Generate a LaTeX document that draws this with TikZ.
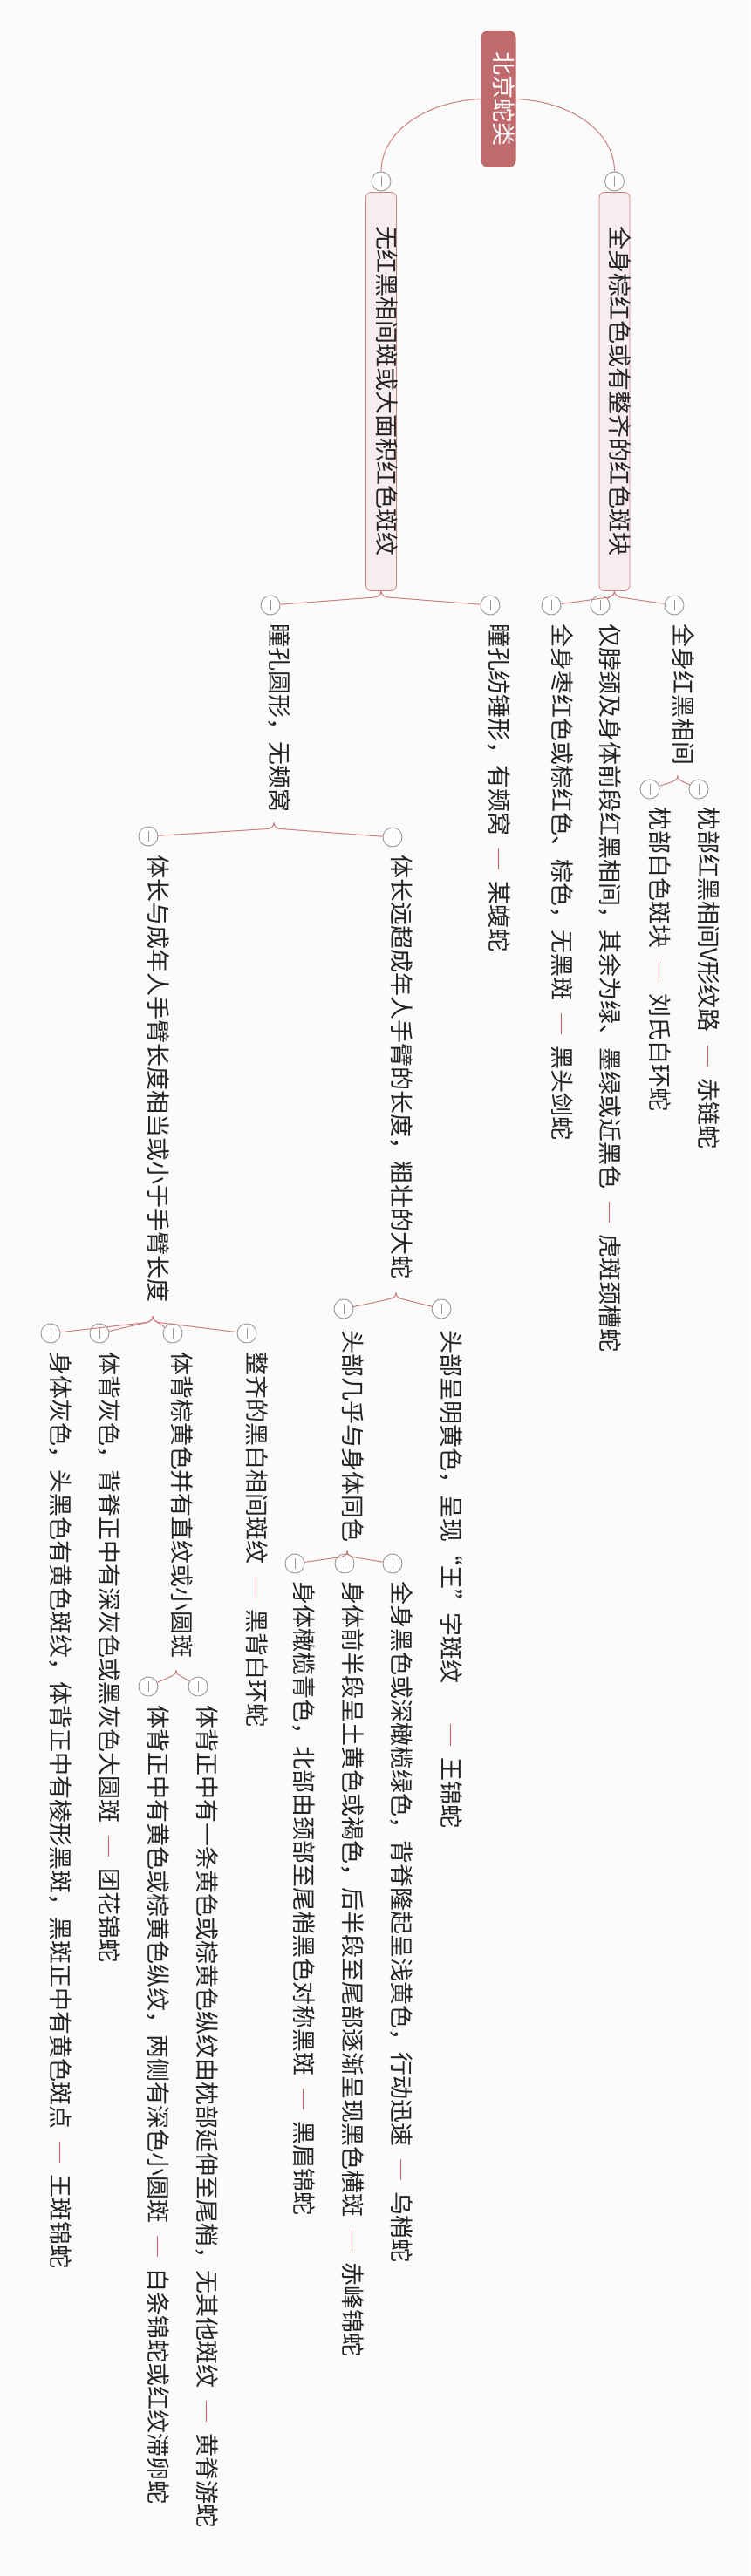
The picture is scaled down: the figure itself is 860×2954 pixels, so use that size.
\documentclass[tikz,border=0pt]{standalone}
\usepackage{fontspec}
\setmainfont{Noto Sans CJK SC}
\definecolor{paper}{RGB}{251,251,251}
\definecolor{rootred}{RGB}{191,106,109}
\definecolor{topicfill}{RGB}{248,237,238}
\definecolor{topicline}{RGB}{206,128,131}
\definecolor{linkred}{RGB}{204,126,128}
\definecolor{foldgray}{RGB}{150,150,150}
\definecolor{ink}{RGB}{35,35,35}
\definecolor{dashred}{RGB}{214,96,96}
\newcommand\redsep{\hspace{0.55em}\textcolor{dashred}{\rule[0.32em]{0.9em}{0.8pt}}\hspace{0.5em}}
\tikzset{
  root/.style={rotate=-90, fill=rootred, text=white, rounded corners=8pt,
    inner xsep=24.5pt, inner ysep=15pt, text height=0.88em, text depth=0.12em},
  topic/.style={rotate=-90, fill=topicfill, draw=topicline, line width=0.8pt,
    rounded corners=6pt, inner xsep=39.5pt, inner ysep=12.5pt, text=ink,
    text height=0.88em, text depth=0.12em},
  leaf/.style={rotate=-90, anchor=west, inner sep=0pt, text=ink,
    text height=0.88em, text depth=0.12em},
  fold/.style={circle, draw=foldgray, fill=white, line width=0.9pt,
    minimum size=22pt, inner sep=0pt,
    path picture={\draw[foldgray, line width=0.9pt]
      ([yshift=-5pt]path picture bounding box.north) --
      ([yshift=5pt]path picture bounding box.south);}},
  link/.style={draw=linkred, line width=1pt}
}
\begin{document}
\begin{tikzpicture}[x=1pt, y=-1pt, font=\fontsize{27}{32}\selectfont]
  \fill[paper] (0,0) rectangle (860,2954);

  \node[root] (root) at (571.5,113.5) {北京蛇类};
  \node[topic] (pattern) at (437,449) {无红黑相间斑或大面积红色斑纹};
  \node[topic] (redbody) at (704.5,449) {全身棕红色或有整齐的红色斑块};
  \node[fold] (fpattern) at (437,208) {};
  \node[fold] (fredbody) at (704.5,208) {};

  \node[fold] (fround) at (310,694) {};
  \node[leaf] (round) at (314,715) {瞳孔圆形，无颊窝};
  \node[fold] (fslit) at (562,694) {};
  \node[leaf] (slit) at (566,715) {瞳孔纺锤形，有颊窝\redsep 某蝮蛇};
  \node[fold] (fplain) at (632,694) {};
  \node[leaf] (plain) at (638,715) {全身枣红色或棕红色、棕色，无黑斑\redsep 黑头剑蛇};
  \node[fold] (fneck) at (688,694) {};
  \node[leaf] (neck) at (693,715) {仅脖颈及身体前段红黑相间，其余为绿、墨绿或近黑色\redsep 虎斑颈槽蛇};
  \node[fold] (fbands) at (773,694) {};
  \node[leaf] (bands) at (777,715) {全身红黑相间};

  \node[fold] (fwhite) at (745,905) {};
  \node[leaf] (white) at (750,925) {枕部白色斑块\redsep 刘氏白环蛇};
  \node[fold] (fvmark) at (801,905) {};
  \node[leaf] (vmark) at (806,925) {枕部红黑相间V形纹路\redsep 赤链蛇};

  \node[fold] (fsmall) at (170,959) {};
  \node[leaf] (small) at (175,980) {体长与成年人手臂长度相当或小于手臂长度};
  \node[fold] (fbig) at (450,960) {};
  \node[leaf] (big) at (454,980) {体长远超成年人手臂的长度，粗壮的大蛇};

  \node[fold] (fgray) at (58,1529) {};
  \node[leaf] (gray) at (63,1550) {身体灰色，头黑色有黄色斑纹，体背正中有棱形黑斑，黑斑正中有黄色斑点\redsep 王斑锦蛇};
  \node[fold] (fspots) at (114,1529) {};
  \node[leaf] (spots) at (119,1550) {体背灰色，背脊正中有深灰色或黑灰色大圆斑\redsep 团花锦蛇};
  \node[fold] (fbrown) at (198,1529) {};
  \node[leaf] (brown) at (202,1550) {体背棕黄色并有直纹或小圆斑};
  \node[fold] (fringed) at (283,1529) {};
  \node[leaf] (ringed) at (288,1550) {整齐的黑白相间斑纹\redsep 黑背白环蛇};

  \node[fold] (fsame) at (394,1501) {};
  \node[leaf] (same) at (398,1525) {头部几乎与身体同色};
  \node[fold] (fking) at (506,1501) {};
  \node[leaf] (king) at (511,1525) {头部呈明黄色，呈现“王”字斑纹\hspace{1.2em}\redsep 王锦蛇};

  \node[fold] (fside) at (170,1934) {};
  \node[leaf] (side) at (175,1955) {体背正中有黄色或棕黄色纵纹，两侧有深色小圆斑\redsep 白条锦蛇或红纹滞卵蛇};
  \node[fold] (fstripe) at (227,1934) {};
  \node[leaf] (stripe) at (231,1955) {体背正中有一条黄色或棕黄色纵纹由枕部延伸至尾梢，无其他斑纹\redsep 黄脊游蛇};

  \node[fold] (folive) at (338,1793) {};
  \node[leaf] (olive) at (342,1813) {身体橄榄青色，北部由颈部至尾梢黑色对称黑斑\redsep 黑眉锦蛇};
  \node[fold] (fhalf) at (395,1793) {};
  \node[leaf] (half) at (398,1813) {身体前半段呈土黄色或褐色，后半段至尾部逐渐呈现黑色横斑\redsep 赤峰锦蛇};
  \node[fold] (fblack) at (450,1793) {};
  \node[leaf] (black) at (454,1813) {全身黑色或深橄榄绿色，背脊隆起呈浅黄色，行动迅速\redsep 乌梢蛇};

  \draw[link] (root.south) .. controls (490,116) and (437,150) .. (fpattern);
  \draw[link] (root.north) .. controls (653,116) and (704.5,150) .. (fredbody);

  \draw[link] (pattern.east) .. controls +(0,4) and +(3,-1) .. +(-6,7) -- (fround);
  \draw[link] (pattern.east) .. controls +(0,4) and +(-3,-1) .. +(6,7) -- (fslit);
  \draw[link] (redbody.east) .. controls +(0,4) and +(3,-1) .. +(-6,7) -- (fplain);
  \draw[link] (redbody.east) .. controls +(0,4) and +(3,-1) .. +(-6,7) -- (fneck);
  \draw[link] (redbody.east) .. controls +(0,4) and +(-3,-1) .. +(6,7) -- (fbands);

  \draw[link] ([yshift=-12pt]bands.east) .. controls +(0,4) and +(3,-1) .. +(-6,7) -- (fwhite);
  \draw[link] ([yshift=-12pt]bands.east) .. controls +(0,4) and +(-3,-1) .. +(6,7) -- (fvmark);
  \draw[link] ([yshift=-12pt]round.east) .. controls +(0,4) and +(3,-1) .. +(-6,7) -- (fsmall);
  \draw[link] ([yshift=-12pt]round.east) .. controls +(0,4) and +(-3,-1) .. +(6,7) -- (fbig);

  \draw[link] ([yshift=-16pt]small.east) .. controls +(0,4) and +(3,-1) .. +(-6,7) -- (fgray);
  \draw[link] ([yshift=-16pt]small.east) .. controls +(0,4) and +(3,-1) .. +(-6,7) -- (fspots);
  \draw[link] ([yshift=-16pt]small.east) .. controls +(0,4) and +(-3,-1) .. +(6,7) -- (fbrown);
  \draw[link] ([yshift=-16pt]small.east) .. controls +(0,4) and +(-3,-1) .. +(6,7) -- (fringed);
  \draw[link] ([yshift=-16pt]big.east) .. controls +(0,4) and +(3,-1) .. +(-6,7) -- (fsame);
  \draw[link] ([yshift=-16pt]big.east) .. controls +(0,4) and +(-3,-1) .. +(6,7) -- (fking);

  \draw[link] ([yshift=-14pt]brown.east) .. controls +(0,4) and +(3,-1) .. +(-6,7) -- (fside);
  \draw[link] ([yshift=-14pt]brown.east) .. controls +(0,4) and +(-3,-1) .. +(6,7) -- (fstripe);
  \draw[link] ([yshift=-10pt]same.east) .. controls +(0,4) and +(3,-1) .. +(-6,7) -- (folive);
  \draw[link] ([yshift=-10pt]same.east) .. controls +(0,4) and +(-3,-1) .. +(6,7) -- (fblack);
\end{tikzpicture}
\end{document}
